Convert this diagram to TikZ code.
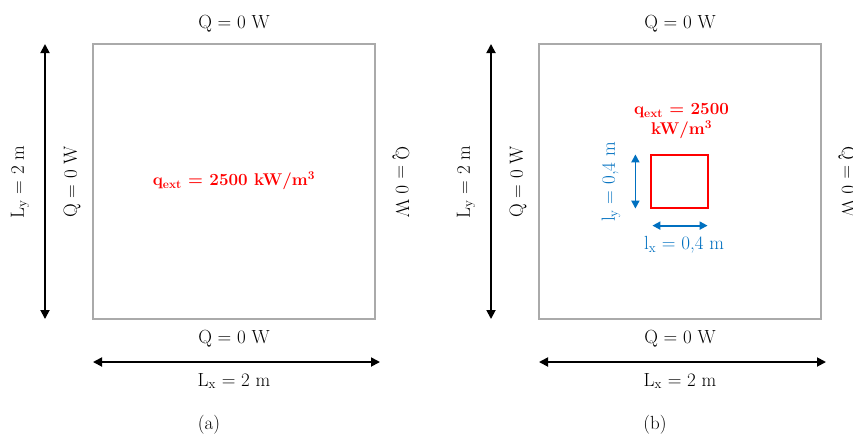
\documentclass[tikz,border=0pt]{standalone}
\usetikzlibrary{arrows.meta,positioning}
\definecolor{wallgray}{RGB}{170,170,170}
\definecolor{heatred}{RGB}{255,0,0}
\definecolor{sizeblue}{RGB}{0,112,192}
\tikzset{
  plate/.style={draw=wallgray, line width=1.2pt, minimum width=282pt, minimum height=275pt, inner sep=0pt},
  source/.style={draw=heatred, line width=1.2pt, minimum width=57pt, minimum height=53pt, inner sep=0pt},
  txt/.style={inner sep=0pt, font=\fontsize{19}{22}\selectfont},
  heat/.style={inner sep=0pt, text=heatred, align=center, font=\fontsize{17}{20}\selectfont\bfseries},
  sizetxt/.style={inner sep=0pt, text=sizeblue, font=\fontsize{19}{22}\selectfont},
  dim/.style={{Triangle[length=9pt,width=9pt]}-{Triangle[length=9pt,width=9pt]}, line width=1.8pt},
  smalldim/.style={{Triangle[length=8pt,width=8pt]}-{Triangle[length=8pt,width=8pt]}, line width=1.8pt, draw=sizeblue}
}

\begin{document}
\begin{tikzpicture}[x=1pt, y=1pt]
  \useasboundingbox (0,0) rectangle (853,-437);

  % both panels: plate, walls, overall size
  \foreach \p/\dx in {a/0, b/446}{
    \begin{scope}[xshift=\dx pt]
      \node[plate] (plate\p) at (234,-181.5) {};
      \node[txt] (qtop\p) [above=11pt of plate\p] {Q = 0 W};
      \node[txt] (qbot\p) [below=10pt of plate\p] {Q = 0 W};
      \node[txt, rotate=90] (qleft\p) at (72,-182) {Q = 0 W};
      \node[txt, rotate=-90] (qright\p) at (401,-182) {Q = 0 W};

      \coordinate (lytop\p) at (45,-44);
      \coordinate (lybot\p) at (45,-319);
      \draw[dim] (lytop\p) -- (lybot\p);
      \node[txt, rotate=90] (ly\p) at (20,-182) {L\textsubscript{y} = 2 m};

      \coordinate (lxleft\p) at (93,-362);
      \coordinate (lxright\p) at (380,-362);
      \draw[dim] (lxleft\p) -- (lxright\p);
      \node[txt] (lx\p) at (234,-381) {L\textsubscript{x} = 2 m};

      \node[txt] (cap\p) at (209,-425) {(\p)};
    \end{scope}
  }

  % (a) heat over the whole plate
  \node[heat] (qexta) at (234,-181) {q\textsubscript{ext} = 2500 kW/m\textsuperscript{3}};

  % (b) local source
  \node[source] (srcb) at (679.5,-181.5) {};
  \node[heat] (qextb) [above=15pt of srcb, xshift=2pt] {q\textsubscript{ext} = 2500\\kW/m\textsuperscript{3}};

  \coordinate (lyhi) at ([xshift=-15pt]srcb.north west);
  \coordinate (lylo) at ([xshift=-15pt]srcb.south west);
  \draw[smalldim] (lyhi) -- (lylo);
  \node[sizetxt, rotate=90] (lyb) at (611,-182) {l\textsubscript{y} = 0,4 m};

  \coordinate (lxlo) at ([xshift=2pt, yshift=-17pt]srcb.south west);
  \coordinate (lxhi) at ([xshift=-1pt, yshift=-17pt]srcb.south east);
  \draw[smalldim] (lxlo) -- (lxhi);
  \node[sizetxt] (lxb) at (684,-245) {l\textsubscript{x} = 0,4 m};
\end{tikzpicture}
\end{document}
